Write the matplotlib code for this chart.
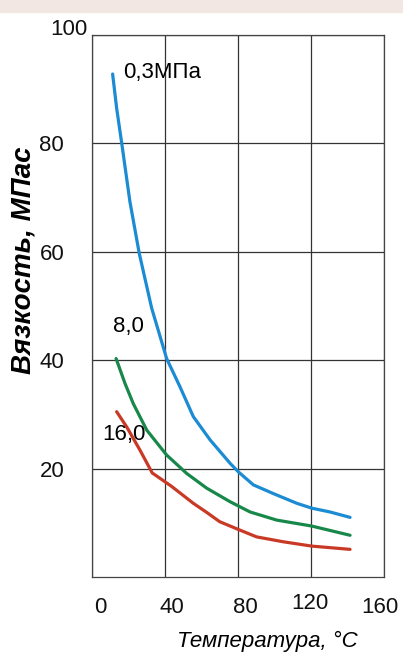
import matplotlib
matplotlib.use("Agg")
import matplotlib.pyplot as plt
import matplotlib.transforms as mtransforms
from matplotlib.patches import Rectangle

# temperature (C) and viscosity (MPa*s)
t_03 = [11.3, 13.5, 16.3, 20.8, 25.9, 32.7, 40.9, 48.2, 55.5, 64.7, 75.6, 80.2,
        88.4, 99.3, 112.2, 120.4, 130.4, 141.4]
v_03 = [92.8, 86.5, 80, 69.2, 59.7, 49.6, 40.3, 35.1, 29.6, 25.3, 21, 19.4,
        17, 15.4, 13.6, 12.7, 12, 11]

t_8 = [13.2, 18.1, 22.6, 30, 40.9, 51.9, 62.8, 75.6, 86.6, 101.2, 120.4, 141.4]
v_8 = [40.3, 35.7, 32, 27.1, 22.5, 19.1, 16.4, 13.9, 12, 10.5, 9.4, 7.7]

t_16 = [13.5, 19, 26.3, 33, 43.7, 55.5, 62.5, 70, 80, 90.2, 104.8, 120.4, 141.4]
v_16 = [30.5, 27.7, 23.4, 19.2, 16.7, 13.6, 12, 10.2, 8.8, 7.4, 6.5, 5.7, 5.1]

x_ticks = [0, 40, 80, 120, 160]
y_ticks = [20, 40, 60, 80, 100]

plt.rcParams["font.family"] = ["Liberation Sans", "DejaVu Sans"]

fig = plt.figure(figsize=(4.03, 6.57), dpi=100)
fig.patches.append(Rectangle((0, 1 - 12 / 657), 1, 12 / 657, transform=fig.transFigure,
                             color="#f2e7e3", zorder=0))
ax = fig.add_axes([92 / 403, 80 / 657, 292 / 403, 542 / 657])

ax.plot(t_03, v_03, color="#1b8bd3", lw=2.3, solid_capstyle="round", solid_joinstyle="round")
ax.plot(t_8, v_8, color="#17884a", lw=2.3, solid_capstyle="round", solid_joinstyle="round")
ax.plot(t_16, v_16, color="#c93a26", lw=2.3, solid_capstyle="round", solid_joinstyle="round")

ax.set_xlim(0, 160)
ax.set_ylim(0, 100)
ax.set_xticks(x_ticks)
ax.set_yticks(y_ticks)
ax.grid(True, color="#333333", lw=0.9)
for s in ax.spines.values():
    s.set_color("#444444")
    s.set_linewidth(0.9)
ax.tick_params(length=0, labelsize=16, colors="#111111")
ax.tick_params(axis="y", pad=20)
ax.tick_params(axis="x", pad=14.5)

# nudge a few tick labels like the original
for lab, tick in zip(ax.get_yticklabels(), y_ticks):
    if tick == 100:
        lab.set_transform(lab.get_transform() + mtransforms.ScaledTranslation(23 / 100, 8 / 100, fig.dpi_scale_trans))
for lab, tick in zip(ax.get_xticklabels(), x_ticks):
    dx = {0: 8, 40: 7, 80: 7, 120: -1, 160: -4}[tick]
    dy = 4 if tick == 120 else 0
    lab.set_transform(lab.get_transform() + mtransforms.ScaledTranslation(dx / 100, dy / 100, fig.dpi_scale_trans))

ax.text(17, 93, "0,3МПа", fontsize=16, va="center", ha="left")
ax.text(11.5, 46.2, "8,0", fontsize=16, va="center", ha="left")
ax.text(5.5, 26.2, "16,0", fontsize=16, va="center", ha="left")

fig.text(267 / 403, 1 - 641 / 657, "Температура, °C", fontsize=16, style="italic",
         ha="center", va="center")
fig.text(24 / 403, 1 - 260 / 657, "Вязкость, МПас", fontsize=20, style="italic",
         weight="bold", rotation=90, ha="center", va="center")

fig.savefig("out.png", dpi=100)
